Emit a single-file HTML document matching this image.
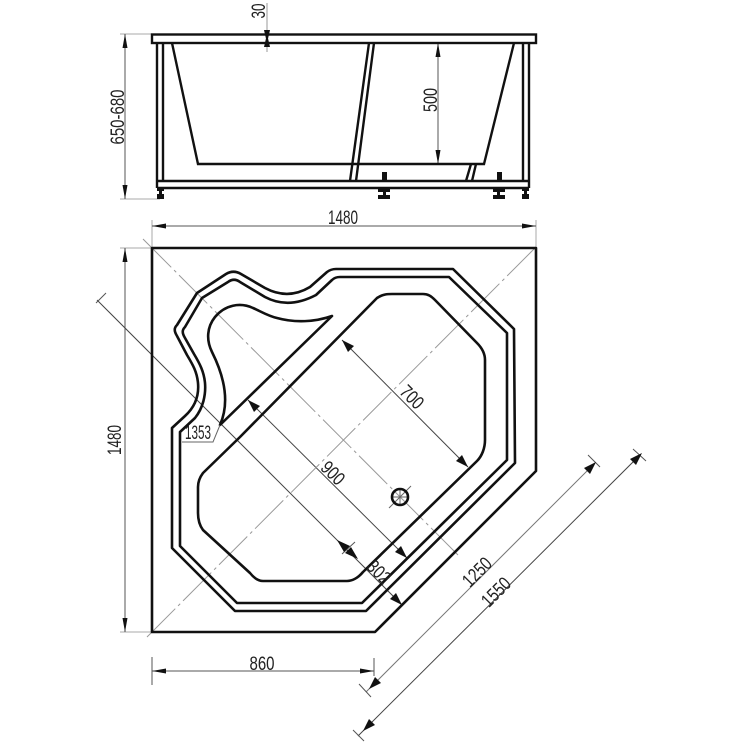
<!DOCTYPE html>
<html><head><meta charset="utf-8"><style>html,body{margin:0;padding:0;background:#fff}svg{display:block}text{font-family:"Liberation Sans",sans-serif;font-size:19px;fill:#222;text-anchor:middle}</style></head><body>
<svg width="742" height="742" viewBox="0 0 742 742" xmlns="http://www.w3.org/2000/svg">
<defs>
<marker id="a" viewBox="0 0 14 6" refX="14" refY="3" markerWidth="14" markerHeight="6" markerUnits="userSpaceOnUse" orient="auto-start-reverse"><path d="M0 0.5 L14 3 L0 5.5Z" fill="#111"/></marker>
</defs>
<!-- thin dims -->
<g stroke="#aaa" stroke-width="1" fill="none">
<path d="M120 34H152M120 199H160M120 248H152M120 632H152"/>
<path d="M152 220V248M536 220V248"/>
</g>
<g stroke="#555" stroke-width="1" fill="none">
<path d="M267 3V52" stroke="#999"/>
<path d="M125 34V199" marker-start="url(#a)" marker-end="url(#a)"/>
<path d="M438 43V164" marker-start="url(#a)" marker-end="url(#a)"/>
<path d="M152 226H536" marker-start="url(#a)" marker-end="url(#a)"/>
<path d="M125 248V632" marker-start="url(#a)" marker-end="url(#a)"/>
<path d="M152 671H374" marker-start="url(#a)" marker-end="url(#a)"/>
<path d="M152 657V685M374 658V676"/>
<path d="M97 300L402 605" stroke="#444"/>
<path d="M248 400L407 558" stroke="#444"/>
<path d="M342 340L468 467" stroke="#444"/>
<path d="M594 464L366 692" stroke="#777"/>
<path d="M640 455L358 736" stroke="#444"/>
<path d="M588 455L600 467M359 684L371 697M633 449L646 461M353 730L364 741M96 303L106 293M342 554L355 542"/>
</g>
<g stroke="#999" stroke-width="1" fill="none" stroke-dasharray="40 4 3 4">
<path d="M143 239L458 555"/>
<path d="M147 637L538 245"/>
</g>
<path d="M393 497H407M400 490V504M389 508L411 486" stroke="#666" stroke-width="1" fill="none"/>
<!-- arrows diag -->
<g fill="#111">
<path d="M248 400L260 406L254 412Z"/>
<path d="M342 340L354 346L348 352Z"/>
<path d="M468 467L456 461L462 455Z"/>
<path d="M407 558L395 552L401 546Z"/>
<path d="M402 605L390 599L396 593Z"/>
<path d="M337 540L350 546L344 552Z"/>
<path d="M358 559L345 553L351 547Z"/>
<path d="M596 462L590 474L584 468Z"/>
<path d="M369 689L375 677L381 683Z"/>
<path d="M642 453L636 465L630 459Z"/>
<path d="M363 731L369 719L375 725Z"/>
<path d="M267 43L264 30H270Z"/>
<path d="M267 34L264 47H270Z"/>
</g>
<!-- side view -->
<g stroke="#111" stroke-width="2.4" fill="none">
<rect x="152" y="34.5" width="384" height="8.5"/>
<path d="M157 43V188M163 43V181M523 43V181M529 43V188"/>
<path d="M157 181H529M157 188H529"/>
<path d="M172 43L198 164H484L514 43"/>
<path d="M369 43L350 181M374 43L356 181M471 164L466 181M476 164L472 181"/>
</g>
<g fill="#111">
<rect x="382" y="172" width="5" height="9"/><rect x="497" y="172" width="5" height="9"/>
<rect x="378" y="188" width="12" height="4"/><rect x="383" y="192" width="3" height="3"/><rect x="378" y="195" width="12" height="4"/>
<rect x="493" y="188" width="12" height="4"/><rect x="497" y="192" width="3" height="3"/><rect x="493" y="195" width="12" height="4"/>
<rect x="157" y="188" width="7" height="3"/><rect x="159" y="191" width="3" height="3"/><rect x="157" y="194" width="7" height="5"/>
<rect x="522" y="188" width="7" height="3"/><rect x="524" y="191" width="3" height="3"/><rect x="522" y="194" width="7" height="5"/>
</g>
<!-- plan -->
<g stroke="#111" stroke-width="2.6" fill="none" stroke-linejoin="round">
<path d="M152 248H536V471L375 632H152Z"/>
<path d="M172 428L185 416C196 406 199 394 198 383C197 372 193 365 187 355L177 336C174 331 174 328 177 325L197 293L226 274C231 271 236 271 241 274L265 288C280 296 295 296 310 287L327 272Q331 269 336 269H453L514 329L515 463L366 611H235L172 548Z"/>
<path d="M180 432L195 418C203 408 206 395 205 383C204 372 200 364 194 354L185 338C182 333 182 330 185 327L202 298L228 282C232 279 236 279 240 282L265 297C280 305 297 305 316 295L332 280Q335 277 340 277H449L507 333V460L362 603H237L180 546Z"/>
<path d="M220 425L332 316C315 322 295 323 277 318C268 316 260 311 253 308C240 302 225 305 215 317C207 327 206 340 212 352C222 372 231 400 220 425Z"/>
<path d="M240 437L377 298C383 294 388 294 392 294H423C428 294 431 296 435 300L477 343C482 348 485 353 485 360V440C485 448 482 456 477 461L363 572C358 578 352 581 347 581H263C258 581 254 578 250 573L203 530C200 526 198 520 198 513V487C198 481 200 477 203 473L240 437"/>
<circle cx="400" cy="497" r="8"/>
</g>
<path d="M182 442H213L220 425" stroke="#666" stroke-width="1" fill="none"/>
<!-- labels -->
<text transform="translate(265 11) rotate(-90)" textLength="15" lengthAdjust="spacingAndGlyphs">30</text>
<text transform="translate(124 117) rotate(-90)" textLength="55" lengthAdjust="spacingAndGlyphs">650-680</text>
<text transform="translate(437 100) rotate(-90)" textLength="24" lengthAdjust="spacingAndGlyphs">500</text>
<text x="343" y="224" textLength="30" lengthAdjust="spacingAndGlyphs">1480</text>
<text transform="translate(121 440) rotate(-90)" textLength="30" lengthAdjust="spacingAndGlyphs">1480</text>
<text x="262" y="670" textLength="25" lengthAdjust="spacingAndGlyphs">860</text>
<text x="198" y="439" textLength="26" lengthAdjust="spacingAndGlyphs">1353</text>
<text transform="translate(407.4 401.6) rotate(45)" textLength="25" lengthAdjust="spacingAndGlyphs">700</text>
<text transform="translate(328.4 477.6) rotate(45)" textLength="25" lengthAdjust="spacingAndGlyphs">900</text>
<text transform="translate(374.4 576.6) rotate(45)" textLength="25" lengthAdjust="spacingAndGlyphs">302</text>
<text transform="translate(481.6 576.6) rotate(-45)" textLength="33" lengthAdjust="spacingAndGlyphs">1250</text>
<text transform="translate(500.6 596.6) rotate(-45)" textLength="33" lengthAdjust="spacingAndGlyphs">1550</text>
</svg>
</body></html>
